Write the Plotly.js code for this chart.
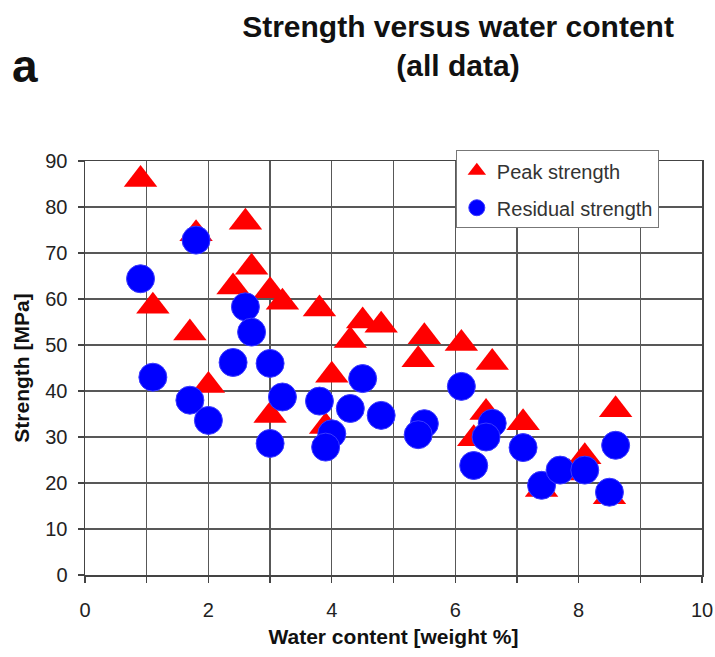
<!DOCTYPE html>
<html>
<head>
<meta charset="utf-8">
<script src="https://cdn.plot.ly/plotly-3.0.1.min.js"></script>
<style>html,body{margin:0;padding:0;background:#fff;}#chart{width:715px;height:657px;}</style>
</head>
<body>
<div id="chart"></div>
<script>
// Peak strength (red triangles)
const peakWater = [0.9, 1.8, 2.6, 2.7, 2.4, 3.0, 3.2, 1.1, 3.8, 4.5, 4.8, 4.3, 1.7, 2.0, 4.0, 5.5, 6.1, 5.4, 6.6, 3.0, 3.9, 6.5, 6.3, 7.1, 7.4, 7.85, 8.1, 8.6, 8.5];
const peakStrength = [86, 74.2, 76.7, 66.9, 62.6, 61.8, 59.3, 58.4, 57.8, 55.2, 54.3, 51.0, 52.6, 41.2, 43.4, 51.8, 50.3, 46.8, 46.2, 34.7, 32.3, 35.3, 29.6, 33.1, 18.6, 22.2, 25.7, 35.9, 17.0];
// Residual strength (blue circles)
const resWater = [0.9, 1.8, 2.6, 2.7, 2.4, 3.0, 1.1, 4.5, 1.7, 2.0, 3.2, 3.0, 3.8, 4.0, 3.9, 4.3, 4.8, 5.5, 5.4, 6.1, 6.6, 6.5, 6.3, 7.1, 7.4, 7.7, 8.1, 8.6, 8.5];
const resStrength = [64.4, 72.8, 58.3, 52.8, 46.2, 46.0, 43.0, 42.7, 38.0, 33.6, 38.7, 28.6, 37.8, 30.7, 27.8, 36.2, 34.7, 32.9, 30.5, 41.0, 33.0, 30.0, 23.8, 27.7, 19.5, 22.8, 22.8, 28.2, 18.0];

const titleText = 'Strength versus water content<br>(all data)';
const xTitle = 'Water content [weight %]';
const yTitle = 'Strength [MPa]';
const panelLabel = 'a';
const seriesNames = ['Peak strength', 'Residual strength'];

const FONT = 'Liberation Sans, Arial, Helvetica, sans-serif';
const GRID = '#585858';

const traces = [
  {
    x: peakWater, y: peakStrength, name: seriesNames[0], type: 'scatter', mode: 'markers',
    legendgroup: 'g1',
    marker: {symbol: 'triangle-up', size: 29, color: '#ff0000', line: {width: 0}}
  },
  {
    x: resWater, y: resStrength, name: seriesNames[1], type: 'scatter', mode: 'markers',
    legendgroup: 'g2',
    marker: {symbol: 'circle', size: 28, color: '#0000ff', line: {width: 1, color: '#3a3aff'}}
  }
];

const layout = {
  width: 715, height: 657,
  margin: {l: 85, r: 13, t: 161, b: 82, pad: 0},
  paper_bgcolor: '#ffffff', plot_bgcolor: '#ffffff',
  font: {family: FONT, color: '#222'},
  showlegend: true,
  title: {
    text: '<b>' + titleText + '</b>',
    font: {family: FONT, size: 30, color: '#111'},
    x: 0.6406, xanchor: 'center', xref: 'container',
    y: 0.943, yanchor: 'top', yref: 'container'
  },
  xaxis: {
    range: [0, 10], dtick: 2, tick0: 0,
    showgrid: true, gridcolor: GRID, gridwidth: 1.3,
    showline: true, linecolor: '#444', linewidth: 1.5, mirror: true,
    zeroline: false,
    ticks: 'outside', ticklen: 6, tickcolor: '#444', tickwidth: 1.3,
    ticklabelstandoff: 10,
    tickfont: {family: FONT, size: 20, color: '#222'},
    minor: {dtick: 1, showgrid: true, gridcolor: GRID, gridwidth: 1.3, ticks: 'outside', ticklen: 6, tickcolor: '#444', tickwidth: 1.3},
    title: {text: '<b>' + xTitle + '</b>', font: {family: FONT, size: 21, color: '#111'}, standoff: 10},
    automargin: false, fixedrange: true
  },
  yaxis: {
    range: [0, 90], dtick: 10, tick0: 0,
    showgrid: true, gridcolor: GRID, gridwidth: 1.3,
    showline: true, linecolor: '#444', linewidth: 1.5, mirror: true,
    zeroline: false,
    ticks: 'outside', ticklen: 6, tickcolor: '#444', tickwidth: 1.3,
    ticklabelstandoff: 6,
    tickfont: {family: FONT, size: 20, color: '#222'},
    title: {text: '<b>' + yTitle + '</b>', font: {family: FONT, size: 21, color: '#111'}, standoff: 10},
    automargin: false, fixedrange: true
  },
  legend: {
    x: 0.601, xanchor: 'left', y: 1.026, yanchor: 'top',
    bgcolor: '#ffffff', bordercolor: '#777', borderwidth: 1,
    font: {family: FONT, size: 20, color: '#333'},
    tracegroupgap: 8, traceorder: 'grouped', itemwidth: 30
  },
  annotations: [
    {
      text: '<b>' + panelLabel + '</b>', xref: 'paper', yref: 'paper',
      x: -0.122, y: 1.163, xanchor: 'left', yanchor: 'bottom', showarrow: false,
      font: {family: FONT, size: 46, color: '#111'}
    }
  ]
};

Plotly.newPlot('chart', traces, layout, {displayModeBar: false, staticPlot: true});
</script>
</body>
</html>
